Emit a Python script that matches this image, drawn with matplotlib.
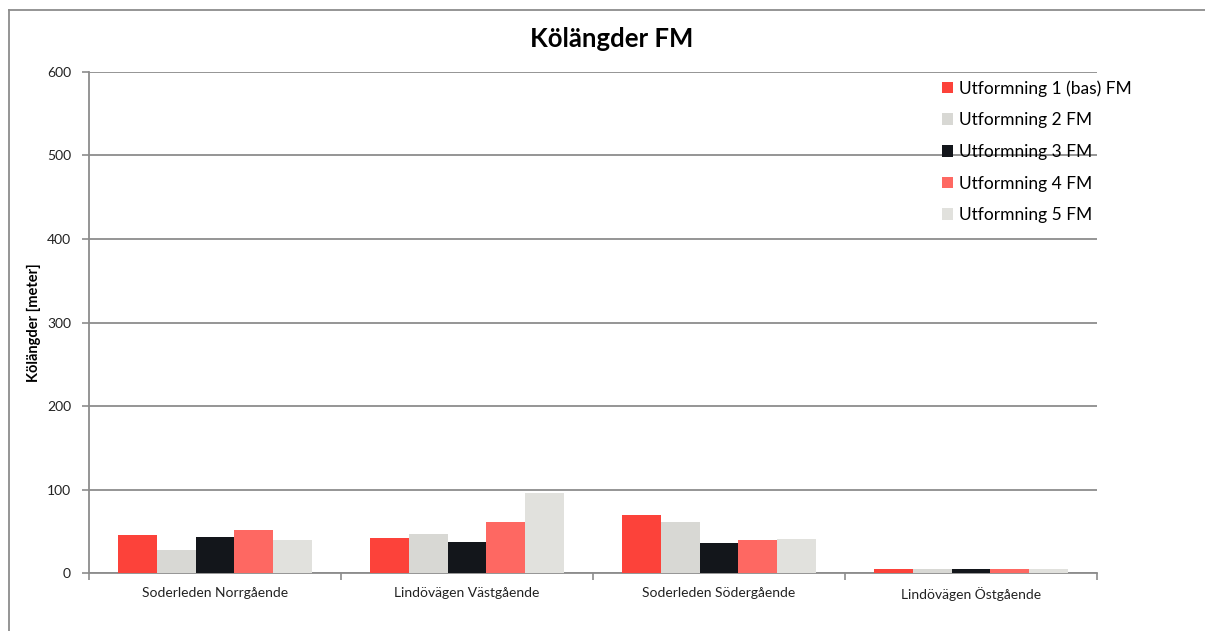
import matplotlib
matplotlib.use("Agg")
import matplotlib.pyplot as plt
from matplotlib.lines import Line2D
import numpy as np

plt.rcParams['font.family'] = ['Lato', 'DejaVu Sans']

categories = ["Soderleden Norrgående", "Lindövägen Västgående",
              "Soderleden Södergående", "Lindövägen Östgående"]
series_names = ["Utformning 1 (bas) FM", "Utformning 2 FM", "Utformning 3 FM",
                "Utformning 4 FM", "Utformning 5 FM"]
utf1 = [45, 42, 69, 5]
utf2 = [28, 47, 61, 5]
utf3 = [43, 37, 36, 5]
utf4 = [52, 61, 39, 5]
utf5 = [39, 96, 41, 5]
y_ticks = [0, 100, 200, 300, 400, 500, 600]

series_values = [utf1, utf2, utf3, utf4, utf5]
colors = ["#FC423A", "#D8D8D4", "#13161B", "#FE6862", "#E1E1DD"]

fig = plt.figure(figsize=(12.05, 6.31), dpi=100)
ax = fig.add_axes([0.0739, 0.0919, 0.8365, 0.7940])

x = np.arange(len(categories))
bw = 0.154
for i, (vals, col) in enumerate(zip(series_values, colors)):
    ax.bar(x + (i - 2) * bw, vals, width=bw, color=col, zorder=3,
           label=series_names[i])

ax.set_xlim(-0.5, len(categories) - 0.5)
ax.set_ylim(0, 600)
ax.set_yticks(y_ticks)
ax.set_yticklabels([str(v) for v in y_ticks], fontsize=10, color="#222222")
ax.yaxis.grid(True, color="#8C8C8C", linewidth=1.3, zorder=1)
ax.set_axisbelow(True)

ax.set_xticks(x)
ax.set_xticklabels(categories, fontsize=10, color="#222222")
ax.tick_params(axis='x', which='major', length=0, pad=10)
ax.set_xticks(np.arange(-0.5, len(categories)), minor=True)
ax.tick_params(axis='x', which='minor', length=5, color="#8C8C8C", width=1.2)
ax.tick_params(axis='y', length=5, color="#8C8C8C", width=1.2, pad=8)

for s in ["top", "right"]:
    ax.spines[s].set_visible(False)
for s in ["left", "bottom"]:
    ax.spines[s].set_color("#8C8C8C")
    ax.spines[s].set_linewidth(1.3)

ax.set_ylabel("Kölängder [meter]", fontsize=10.5, fontweight="bold", labelpad=4)
fig.suptitle("Kölängder FM", fontsize=18.5, fontweight="bold", x=0.508, y=0.957)

leg = ax.legend(loc="upper right", bbox_to_anchor=(1.05, 1.015), frameon=False,
                fontsize=12.5, handlelength=0.65, handleheight=0.65,
                handletextpad=0.35, labelspacing=0.9)

# outer chart frame
fig.add_artist(Line2D([0.0075, 0.0075], [0.0, 0.984], color="#8C8C8C",
                      linewidth=1.3, transform=fig.transFigure))
fig.add_artist(Line2D([0.0075, 1.0], [0.984, 0.984], color="#8C8C8C",
                      linewidth=1.3, transform=fig.transFigure))

fig.savefig("out.png", dpi=100)
